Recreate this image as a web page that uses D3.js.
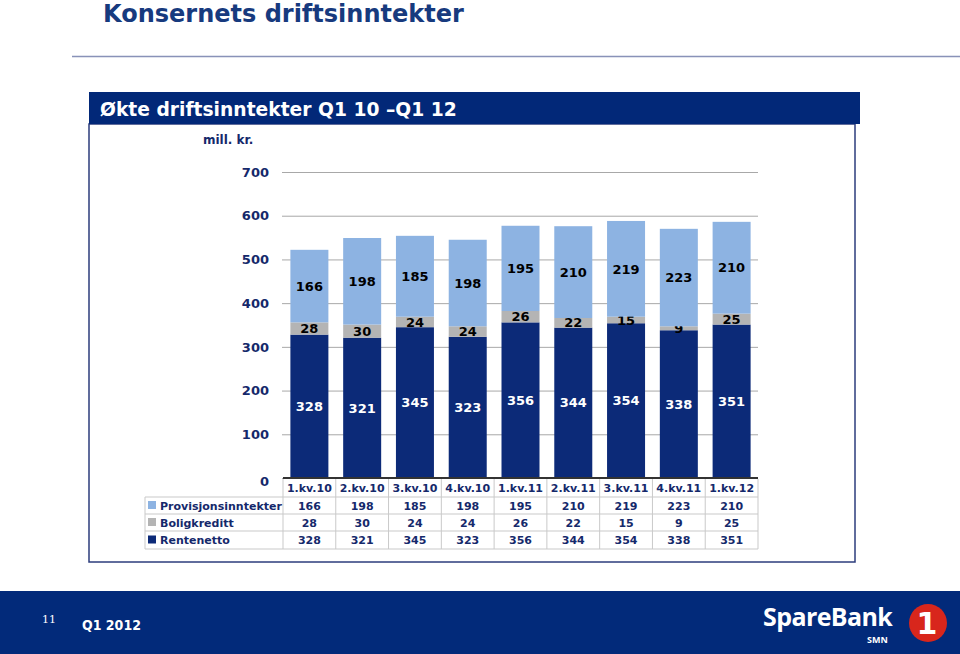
<!DOCTYPE html>
<html><head><meta charset="utf-8">
<script src="https://cdn.jsdelivr.net/npm/d3@7"></script>
<style>body{margin:0;background:#fff}svg{display:block}</style>
</head><body><svg id="c" width="960" height="654"></svg>
<script>
const categories = ["1.kv.10","2.kv.10","3.kv.10","4.kv.10","1.kv.11","2.kv.11","3.kv.11","4.kv.11","1.kv.12"];
const seriesNames = ["Provisjonsinntekter","Boligkreditt","Rentenetto"];
const rentenetto = [328,321,345,323,356,344,354,338,351];
const boligkreditt = [28,30,24,24,26,22,15,9,25];
const provisjon = [166,198,185,198,195,210,219,223,210];
const yTicks = [0,100,200,300,400,500,600,700];

const navy = "#0c2a78", gray = "#b4b4b4", light = "#8db3e2", txt = "#15296b";
const font = "'DejaVu Sans', Verdana, sans-serif";
const svg = d3.select("#c").style("font-family", font);

// Title
svg.append("text").attr("x",103).attr("y",22).attr("font-size",24).attr("font-weight","bold")
  .attr("fill","#173a7e").text("Konsernets driftsinntekter");
svg.append("line").attr("x1",72).attr("x2",960).attr("y1",56.5).attr("y2",56.5)
  .attr("stroke","#3b4b8a").attr("stroke-width",1.3).attr("opacity",0.6);

// Panel
svg.append("rect").attr("x",89).attr("y",124).attr("width",766).attr("height",438)
  .attr("fill","none").attr("stroke","#2c3c7c").attr("stroke-width",1.5);
svg.append("rect").attr("x",89).attr("y",92).attr("width",771).attr("height",32).attr("fill","#022878");
svg.append("text").attr("x",100).attr("y",116).attr("font-size",18.7).attr("font-weight","bold")
  .attr("fill","#fff").text("Økte driftsinntekter Q1 10 –Q1 12");
svg.append("text").attr("x",203).attr("y",144).attr("font-size",12).attr("font-weight","bold")
  .attr("fill",txt).text("mill. kr.");

// Scales
const y = d3.scaleLinear().domain([0,700]).range([478,172]);
const col = d3.scaleBand().domain(categories).range([283,758]).padding(0);
const x = d3.scaleBand().domain(categories).range([283,758]).paddingInner(0.28).paddingOuter(0.14);

// Grid + y axis
const gy = svg.append("g").attr("transform","translate(282,0)")
  .call(d3.axisLeft(y).tickValues(yTicks).tickSize(-476).tickFormat(d3.format("d")).tickPadding(13));
gy.select(".domain").remove();
gy.selectAll(".tick line").attr("stroke","#a8a8a8").attr("stroke-width",1);
gy.selectAll(".tick text").attr("font-size",13).attr("font-weight","bold").attr("fill",txt)
  .attr("font-family",font);
gy.selectAll(".tick").filter(d=>d===0).select("text").attr("dy","0.6em");

// Stacks
const rows = categories.map((c,i)=>({cat:c, Rentenetto:rentenetto[i], Boligkreditt:boligkreditt[i], Provisjonsinntekter:provisjon[i]}));
const stack = d3.stack().keys(["Rentenetto","Boligkreditt","Provisjonsinntekter"])(rows);
const colors = {Rentenetto:navy, Boligkreditt:gray, Provisjonsinntekter:light};
const labelColor = {Rentenetto:"#ffffff", Boligkreditt:"#000", Provisjonsinntekter:"#000"};
stack.forEach(layer=>{
  const g = svg.append("g");
  g.selectAll("rect").data(layer).join("rect")
    .attr("x",d=>x(d.data.cat)).attr("width",x.bandwidth())
    .attr("y",d=>y(d[1])).attr("height",d=>y(d[0])-y(d[1]))
    .attr("fill",colors[layer.key]);
  g.selectAll("text").data(layer).join("text")
    .attr("x",d=>x(d.data.cat)+x.bandwidth()/2)
    .attr("y",d=>(y(d[0])+y(d[1]))/2).attr("dy","0.36em")
    .attr("text-anchor","middle").attr("font-size",13).attr("font-weight","bold")
    .attr("fill",labelColor[layer.key]).text(d=>d[1]-d[0]);
});

// Zero axis line
svg.append("line").attr("x1",283).attr("x2",758).attr("y1",y(0)).attr("y2",y(0))
  .attr("stroke","#333").attr("stroke-width",2);

// Data table
const rowTops = [478,497,514,531,549];
const tbl = svg.append("g");
const gridc = "#c9c9c9";
[497,514,531,549].forEach(yy=>tbl.append("line").attr("x1",145).attr("x2",758).attr("y1",yy).attr("y2",yy).attr("stroke",gridc));
tbl.append("line").attr("x1",145).attr("x2",145).attr("y1",497).attr("y2",549).attr("stroke",gridc);
categories.forEach(c=>tbl.append("line").attr("x1",col(c)).attr("x2",col(c)).attr("y1",479).attr("y2",549).attr("stroke",gridc));
tbl.append("line").attr("x1",758).attr("x2",758).attr("y1",479).attr("y2",549).attr("stroke",gridc);
tbl.selectAll("text.h").data(categories).join("text").attr("class","h")
  .attr("x",d=>col(d)+col.bandwidth()/2).attr("y",492).attr("text-anchor","middle")
  .attr("font-size",11).attr("font-weight","bold").attr("fill",txt).text(d=>d);
const tableSeries = [["Provisjonsinntekter",provisjon,light],["Boligkreditt",boligkreditt,gray],["Rentenetto",rentenetto,navy]];
tableSeries.forEach(([name,vals,color],r)=>{
  const cy = (rowTops[r+1]+rowTops[r+2])/2;
  tbl.append("rect").attr("x",148).attr("y",cy-4.5).attr("width",8).attr("height",8).attr("fill",color);
  tbl.append("text").attr("x",160).attr("y",cy+4).attr("font-size",11).attr("font-weight","bold")
    .attr("fill",txt).text(name);
  tbl.selectAll("text.v"+r).data(vals).join("text").attr("class","v"+r)
    .attr("x",(d,i)=>col(categories[i])+col.bandwidth()/2).attr("y",cy+4)
    .attr("text-anchor","middle").attr("font-size",11).attr("font-weight","bold").attr("fill",txt).text(d=>d);
});

// Footer
svg.append("rect").attr("x",0).attr("y",591).attr("width",960).attr("height",63).attr("fill","#022a7a");
svg.append("text").attr("x",42).attr("y",623).attr("font-size",11).attr("fill","#fff")
  .attr("font-family","'DejaVu Serif', serif").text("11");
svg.append("text").attr("x",82).attr("y",630).attr("font-size",14).attr("font-weight","bold")
  .attr("fill","#fff").attr("font-family","'DejaVu Sans Condensed','DejaVu Sans',sans-serif").text("Q1 2012");
svg.append("text").attr("x",763).attr("y",626).attr("font-size",25).attr("font-weight","bold")
  .attr("fill","#fff").attr("letter-spacing",-0.6).attr("font-family","'Open Sans','DejaVu Sans',sans-serif").text("SpareBank");
svg.append("text").attr("x",867).attr("y",643).attr("font-size",9).attr("font-weight","bold")
  .attr("fill","#fff").attr("font-family","'Open Sans','DejaVu Sans',sans-serif").text("SMN");
svg.append("circle").attr("cx",928).attr("cy",623).attr("r",19).attr("fill","#d8261c");
svg.append("text").attr("x",927).attr("y",634).attr("text-anchor","middle").attr("font-size",30)
  .attr("font-weight","bold").attr("fill","#fff").attr("font-family","'DejaVu Sans',sans-serif").text("1");
</script></body></html>
